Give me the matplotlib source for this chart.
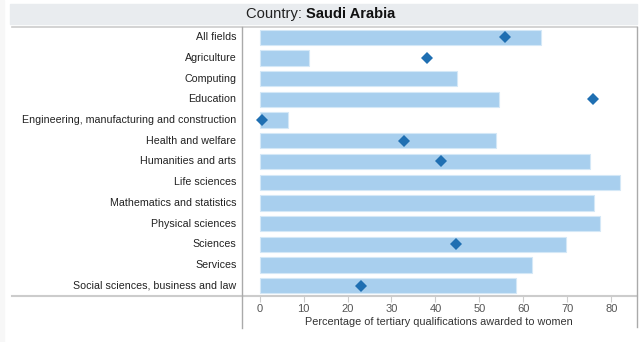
import matplotlib.pyplot as plt
from matplotlib.lines import Line2D
from matplotlib.patches import Rectangle

plt.rcParams['font.family'] = ['Liberation Sans', 'DejaVu Sans']

country = 'Saudi Arabia'
fields = ['All fields', 'Agriculture', 'Computing', 'Education',
          'Engineering, manufacturing and construction', 'Health and welfare',
          'Humanities and arts', 'Life sciences', 'Mathematics and statistics',
          'Physical sciences', 'Sciences', 'Services',
          'Social sciences, business and law']
# bar values (percentage of tertiary qualifications awarded to women)
bar_values = [63.9, 11.3, 45.0, 54.5, 6.5, 53.8, 75.2, 82.0, 76.1, 77.5, 69.6, 61.9, 58.4]
# diamond markers (None where no marker shown)
marker_values = [55.9, 38.1, None, 75.8, 0.6, 32.8, 41.2, None, None, None, 44.6, None, 23.0]
xticks = [0, 10, 20, 30, 40, 50, 60, 70, 80]

W, H = 640, 342
fig = plt.figure(figsize=(W / 100, H / 100), dpi=100)
fig.patch.set_facecolor('white')


def fx(px):
    return px / W


def fy(py):
    return 1 - py / H


# light strip on the far left and title band
fig.patches.append(Rectangle((0, 0), fx(4), 1, transform=fig.transFigure,
                             color='#f7f7f7', zorder=0))
fig.patches.append(Rectangle((fx(10), fy(24)), fx(627), fy(4) - fy(24),
                             transform=fig.transFigure, color='#e9ecef', zorder=0))
fig.text(fx(306), fy(14), 'Country: ', ha='right', va='center', fontsize=10.6, color='#222222')
fig.text(fx(306), fy(14), country, ha='left', va='center', fontsize=10.6,
         fontweight='bold', color='#111111')

ax = fig.add_axes([fx(241.7), fy(296), fx(637) - fx(241.7), fy(27) - fy(296)])
ax.set_facecolor('white')
y = list(range(len(fields)))
ax.barh(y, bar_values, height=0.74, color='#a8cfee', edgecolor='#d4e8f7', linewidth=0.8, zorder=2)
my = [i for i, v in zip(y, marker_values) if v is not None]
mx = [v for v in marker_values if v is not None]
ax.plot(mx, my, 'D', color='#1f6fb2', markersize=6, markeredgewidth=0, zorder=3)

ax.set_ylim(len(fields) - 0.5, -0.5)
ax.set_xlim(-4.07, 85.85)
ax.set_yticks([])
ax.set_xticks(xticks)
ax.tick_params(axis='x', length=4, width=0.8, color='#cccccc', labelcolor='#555555',
               labelsize=8, pad=2)
for s in ax.spines.values():
    s.set_visible(False)
ax.set_xlabel('Percentage of tertiary qualifications awarded to women', fontsize=7.8,
              color='#333333', labelpad=1.8)

# row labels, right-aligned at the separator
for i, name in enumerate(fields):
    ax.text(-4.07 - 1.2, i, name, ha='right', va='center', fontsize=7.7, color='#222222')

# frame lines
lines = [
    ((12, 637), (26.5, 26.5), '#cccccc', 1.2),
    ((12, 637), (295.7, 295.7), '#cccccc', 1.5),
    ((241.7, 241.7), (27, 328), '#aaaaaa', 1.0),
    ((637, 637), (27, 327), '#aaaaaa', 1.0),
]
for xs, ys, c, lw in lines:
    fig.add_artist(Line2D([fx(xs[0]), fx(xs[1])], [fy(ys[0]), fy(ys[1])],
                          transform=fig.transFigure, color=c, linewidth=lw))

fig.savefig('out.png', dpi=100)
